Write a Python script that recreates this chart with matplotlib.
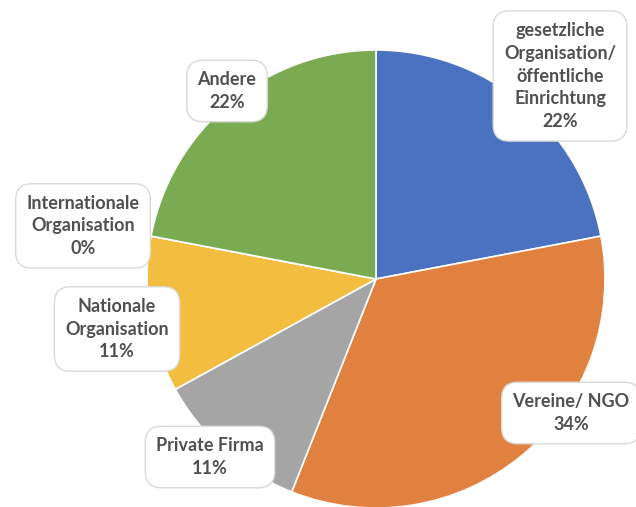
"""Pie chart: Art der Organisation"""

import matplotlib.pyplot as plt

categories = [
    "gesetzliche\nOrganisation/\nöffentliche\nEinrichtung",
    "Vereine/ NGO",
    "Private Firma",
    "Nationale\nOrganisation",
    "Internationale\nOrganisation",
    "Andere",
]
shares = [22, 34, 11, 11, 0, 22]
colors = ["#4A72C0", "#E1813F", "#A5A5A5", "#F3BE40", "#5B9BD5", "#7AAA52"]

# label centres in pixels from top-left
label_pos = [(560, 76), (571, 413), (210, 457), (117, 329), (83, 226), (227, 91)]

W, H = 636, 507
fig = plt.figure(figsize=(W / 100, H / 100), dpi=100)
ax = fig.add_axes([0, 0, 1, 1])

ax.pie(shares, colors=colors, startangle=90, counterclock=False,
       center=(376, H - 279), radius=229,
       wedgeprops=dict(edgecolor="white", linewidth=1.2))

# pie() rescales the axes, so pin them to pixel units afterwards
ax.set_xlim(0, W)
ax.set_ylim(0, H)
ax.set_aspect("equal")
ax.axis("off")

for name, val, (px, py) in zip(categories, shares, label_pos):
    ax.text(px, H - py, "%s\n%d%%" % (name, val),
            ha="center", va="center", fontsize=13, fontweight="bold",
            family=["Lato", "DejaVu Sans"], color="#505050", linespacing=1.42,
            bbox=dict(boxstyle="round,pad=0.6,rounding_size=0.9",
                      fc="white", ec="#D9D9D9", lw=1))

fig.savefig("out.png", dpi=100)
